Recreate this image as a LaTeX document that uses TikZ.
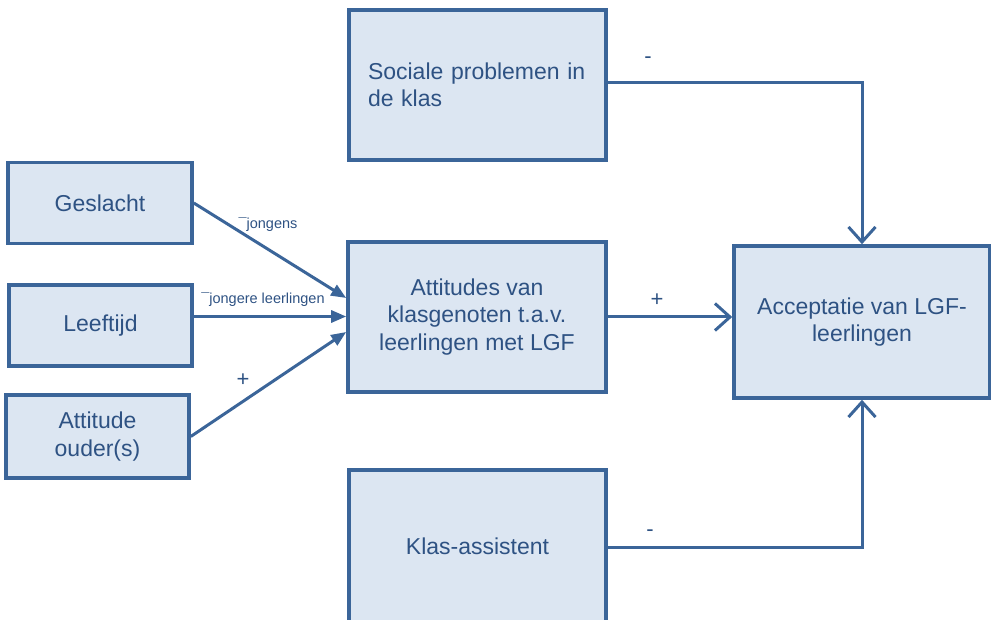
\documentclass[tikz,border=0pt]{standalone}
\usepackage{fontspec}
\setmainfont{Liberation Sans}
\usetikzlibrary{arrows.meta}
\definecolor{boxfill}{HTML}{DCE6F2}
\definecolor{boxline}{HTML}{3B6599}
\definecolor{txt}{HTML}{2E5283}
\tikzset{
  box/.style={draw=boxline, fill=boxfill, line width=3.6pt, inner sep=0pt,
    text=txt, font=\fontsize{23}{27.5}\selectfont, align=center},
  conn/.style={draw=boxline, line width=3pt},
  filledtip/.style={-{Triangle[length=15pt,width=12pt]}},
  opentip/.style={-{Straight Barb[length=15pt,width=27pt,line width=3pt]}},
  biglab/.style={text=txt, font=\fontsize{22}{26}\selectfont},
  smalllab/.style={text=txt, font=\fontsize{14.5}{17}\selectfont}
}
\begin{document}
\begin{tikzpicture}[x=1pt,y=-1pt]
\useasboundingbox (0,0) rectangle (991,620);
\node[box, minimum width=184pt, minimum height=81pt] (gesl) at (100,203) {Geslacht};
\node[box, minimum width=183pt, minimum height=81pt] (leef) at (100.5,325.5) {Leeftijd};
\node[box, minimum width=183pt, minimum height=83pt] (att) at (97.5,436.5) {Attitude\\ouder(s)};
\node[box, minimum width=257pt, minimum height=150pt, text width=219pt, inner xsep=19pt, align=left] (soc) at (477.5,85) {Sociale problemen in\\de klas};
\node[box, minimum width=258pt, minimum height=150pt] (attk) at (477,317) {Attitudes van\\klasgenoten t.a.v.\\leerlingen met LGF};
\node[box, minimum width=256pt, minimum height=152pt] (acc) at (862,322) {Acceptatie van LGF-\\leerlingen};
\node[box, minimum width=257pt, minimum height=153pt] (klas) at (477.5,546.5) {Klas-assistent};

\draw[conn, filledtip] (gesl.east) -- ([yshift=19pt]attk.west);
\draw[conn, filledtip] ([yshift=9pt]leef.east) -- ([yshift=9pt]leef.east -| attk.west);
\draw[conn, filledtip] (att.east) -- ([yshift=-15pt]attk.west);
\draw[conn, opentip] ([yshift=2pt]soc.east) -| (acc.north);
\draw[conn, opentip] (attk.east) -- (attk.east -| acc.west);
\draw[conn, opentip] ([yshift=-1pt]klas.east) -| (acc.south);

\node[smalllab] (l1) at (268,225) {¯jongens};
\node[smalllab] (l2) at (263,300) {¯jongere leerlingen};
\node[biglab] (l3) at (243,380) {+};
\node[biglab] (l4) at (648,60) {-};
\node[biglab] (l5) at (657,300) {+};
\node[biglab] (l6) at (650,533) {-};
\end{tikzpicture}
\end{document}
